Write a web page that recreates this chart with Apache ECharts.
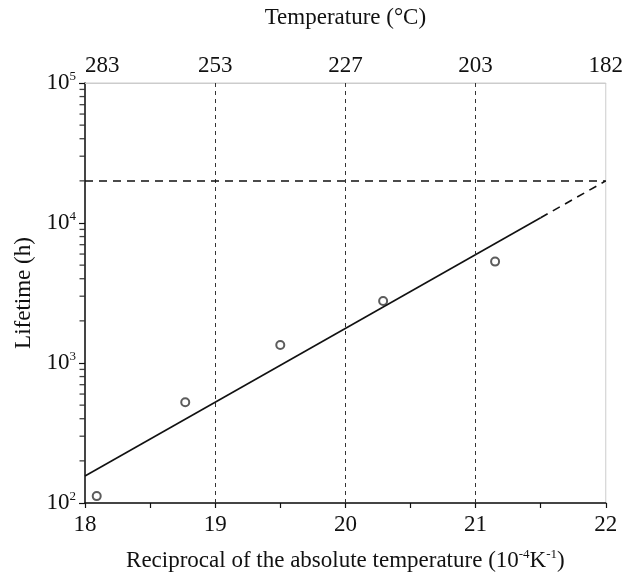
<!DOCTYPE html>
<html lang="en">
<head>
    <meta charset="UTF-8">
    <title>Lifetime vs reciprocal temperature</title>
    <style>
        body{margin:0;background:#fff;}
        #main{width:626px;height:582px;}
    </style>
</head>
<body>
<div id="main"></div>
<script src="https://cdn.jsdelivr.net/npm/echarts@6/dist/echarts.min.js"></script>
<script>
// bottom axis ticks (1e-4/K) and matching temperature labels on the top axis
const recipTicks = [18, 19, 20, 21, 22];
const tempLabels = ['283', '253', '227', '203', '182'];

// measured lifetimes (x = 1e4/T, y = hours)
const measured = [
    [18.09, 112],
    [18.77, 524],
    [19.50, 1345],
    [20.29, 2770],
    [21.15, 5300]
];

// fitted Arrhenius line, solid part and extrapolated part
const fitSolid = [[18, 156], [21.5, 10900]];
const fitDashed = [[21.5, 10900], [22, 20000]];

// guide lines
const guideX = [19, 20, 21];
const targetLife = 20000;

// minor ticks of the log axis
const minorY = [200, 300, 400, 500, 600, 700, 800, 900,
    2000, 3000, 4000, 5000, 6000, 7000, 8000, 9000,
    20000, 30000, 40000, 50000, 60000, 70000, 80000, 90000];

const font = 'Liberation Serif';
const chart = echarts.init(document.getElementById('main'));

const option = {
    animation: false,
    textStyle: {fontFamily: font, color: '#111'},
    grid: {left: 85, right: 14, top: 83, bottom: 79, show: true, borderColor: '#ccc', borderWidth: 1},
    xAxis: [
        {
            type: 'value', min: 18, max: 22, interval: 0.5,
            name: 'Reciprocal of the absolute temperature (10{sup|-4}K{sup|-1})',
            nameLocation: 'middle', nameGap: 45,
            nameTextStyle: {
                fontFamily: font, fontSize: 23, color: '#111',
                rich: {sup: {fontFamily: font, fontSize: 13, padding: [0, 0, 13, 0], color: '#111'}}
            },
            axisLine: {lineStyle: {color: '#111', width: 1.5}},
            axisTick: {length: 5, lineStyle: {color: '#111', width: 1.2}},
            axisLabel: {
                fontFamily: font, fontSize: 23, color: '#111', margin: 10,
                formatter: v => recipTicks.includes(v) ? String(v) : ''
            },
            splitLine: {show: false}
        },
        {
            type: 'value', min: 18, max: 22, interval: 1, position: 'top',
            name: 'Temperature (°C)', nameLocation: 'middle', nameGap: 54,
            nameTextStyle: {fontFamily: font, fontSize: 23, color: '#111'},
            axisLine: {lineStyle: {color: '#ccc', width: 1}},
            axisTick: {show: false},
            axisLabel: {
                fontFamily: font, fontSize: 23, color: '#111', margin: 6,
                alignMinLabel: 'left',
                formatter: v => tempLabels[recipTicks.indexOf(v)]
            },
            splitLine: {show: false}
        }
    ],
    yAxis: {
        type: 'log', logBase: 10, min: 100, max: 100000,
        name: 'Lifetime (h)', nameLocation: 'middle', nameGap: 48, nameRotate: 90,
        nameTextStyle: {fontFamily: font, fontSize: 23, color: '#111'},
        axisLine: {show: true, lineStyle: {color: '#111', width: 1.5}},
        axisTick: {length: 6, lineStyle: {color: '#111', width: 1.2}},
        axisLabel: {
            fontFamily: font, fontSize: 23, color: '#111', margin: 9,
            formatter: v => '10{sup|' + Math.round(Math.log10(v)) + '}',
            rich: {sup: {fontFamily: font, fontSize: 13, padding: [0, 0, 13, 0], color: '#111'}}
        },
        splitLine: {show: false}
    },
    series: [
        {
            name: 'minor ticks', type: 'scatter', data: minorY.map(v => [18, v]),
            symbol: 'rect', symbolSize: [5, 1.3], symbolOffset: [-3, 0],
            itemStyle: {color: '#111'}, silent: true, clip: false, z: 5
        },
        {
            name: 'fit', type: 'line', data: fitSolid, showSymbol: false,
            lineStyle: {color: '#111', width: 1.6}, silent: true,
            markLine: {
                symbol: 'none', silent: true, label: {show: false},
                data: [
                    ...guideX.map(x => ({xAxis: x, lineStyle: {type: [4, 4], color: '#333', width: 1}})),
                    {yAxis: targetLife, lineStyle: {type: [8, 6], color: '#111', width: 1.5}}
                ]
            }
        },
        {
            name: 'fit extrapolated', type: 'line', data: fitDashed, showSymbol: false,
            lineStyle: {color: '#111', width: 1.6, type: [8, 6]}, silent: true
        },
        {
            name: 'measured', type: 'scatter', data: measured,
            symbol: 'emptyCircle', symbolSize: 8,
            itemStyle: {color: '#333', borderWidth: 1.2}
        }
    ]
};

chart.setOption(option);
</script>
</body>
</html>
